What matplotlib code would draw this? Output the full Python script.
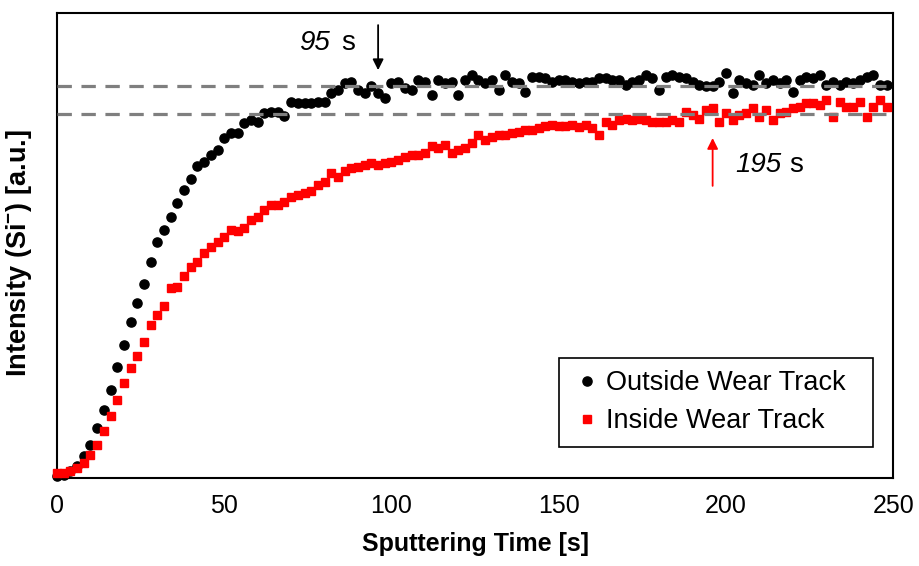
import matplotlib
matplotlib.use("Agg")
import matplotlib.pyplot as plt

plt.rcParams['font.family'] = ['Liberation Sans', 'DejaVu Sans']

# sputtering time [s], one sample every 2 s
time_s = [0, 2, 4, 6, 8, 10, 12, 14, 16, 18, 20, 22, 24, 26, 28, 30, 32, 34, 36, 38,
          40, 42, 44, 46, 48, 50, 52, 54, 56, 58, 60, 62, 64, 66, 68, 70, 72, 74, 76, 78,
          80, 82, 84, 86, 88, 90, 92, 94, 96, 98, 100, 102, 104, 106, 108, 110, 112, 114, 116, 118,
          120, 122, 124, 126, 128, 130, 132, 134, 136, 138, 140, 142, 144, 146, 148, 150, 152, 154, 156, 158,
          160, 162, 164, 166, 168, 170, 172, 174, 176, 178, 180, 182, 184, 186, 188, 190, 192, 194, 196, 198,
          200, 202, 204, 206, 208, 210, 212, 214, 216, 218, 220, 222, 224, 226, 228, 230, 232, 234, 236, 238,
          240, 242, 244, 246, 248]

# Si- intensity (arbitrary units) outside the wear track
outside = [0.3, 0.6, 1.4, 2.6, 4.6, 7.1, 10.7, 14.6, 18.9, 23.9, 28.6, 33.4, 37.6, 41.7, 46.5, 50.8, 53.3, 56.2, 59.1, 61.9,
           64.3, 67.0, 68.0, 69.5, 70.5, 73.1, 74.1, 74.1, 76.3, 77.0, 76.6, 78.4, 78.8, 78.6, 77.8, 80.9, 80.6, 80.6, 80.6, 80.9,
           80.9, 82.7, 83.4, 84.9, 85.2, 83.4, 82.7, 84.2, 82.7, 81.7, 84.9, 85.2, 83.8, 83.4, 85.6, 85.2, 82.4, 85.6, 84.9, 85.2,
           82.4, 85.6, 86.7, 85.6, 84.9, 85.6, 83.4, 86.7, 85.2, 84.9, 83.1, 86.3, 86.3, 86.0, 85.2, 85.6, 85.6, 85.2, 84.9, 85.2,
           85.2, 86.0, 86.0, 85.6, 85.6, 84.5, 85.2, 85.6, 86.7, 86.0, 83.4, 86.3, 86.7, 86.3, 86.0, 85.2, 84.5, 84.2, 84.2, 85.2,
           87.0, 82.7, 85.6, 84.9, 84.5, 86.7, 84.9, 85.6, 84.9, 85.6, 83.1, 85.6, 86.3, 86.0, 86.7, 84.5, 85.2, 84.5, 85.2, 84.9,
           85.6, 86.3, 86.7, 84.5, 84.5]

# Si- intensity (arbitrary units) inside the wear track
inside = [1.0, 1.1, 1.4, 2.0, 3.2, 4.9, 7.1, 10.0, 13.2, 16.8, 20.4, 23.6, 26.1, 29.3, 32.9, 35.1, 37.0, 40.8, 41.1, 43.3,
          45.4, 46.5, 48.3, 49.7, 50.8, 51.9, 53.3, 53.0, 53.7, 55.5, 56.2, 57.6, 58.7, 58.7, 59.4, 60.5, 60.9, 61.2, 61.6, 63.0,
          63.7, 65.5, 64.8, 65.9, 66.6, 66.9, 67.3, 67.7, 67.3, 67.7, 68.0, 68.4, 69.1, 69.5, 69.5, 69.8, 71.3, 70.9, 71.6, 69.8,
          70.5, 70.9, 72.0, 73.8, 72.7, 73.4, 73.8, 73.8, 74.1, 74.5, 74.8, 74.8, 75.2, 75.6, 75.9, 75.6, 75.6, 75.9, 75.5, 75.9,
          75.2, 73.8, 76.6, 75.9, 77.0, 77.3, 77.0, 77.3, 77.0, 76.6, 76.6, 76.6, 77.0, 76.6, 78.8, 78.1, 77.3, 79.1, 79.5, 76.6,
          78.4, 77.0, 78.1, 78.4, 79.5, 77.7, 79.1, 77.0, 78.4, 78.8, 79.5, 79.8, 80.6, 80.6, 80.2, 81.3, 77.7, 80.9, 79.8, 79.8,
          80.9, 77.7, 79.8, 81.3, 79.8]

plateau_outside = 84.3
plateau_inside = 78.3
x_ticks = [0, 50, 100, 150, 200, 250]

fig = plt.figure(figsize=(9.19, 5.66), dpi=100)
ax = fig.add_axes([0.062, 0.156, 0.910, 0.821])

# trailing spaces give the legend box its extra right margin
ax.plot(time_s, outside, 'o', color='black', markersize=6.6, label='Outside Wear Track  ',
        zorder=3, clip_on=False)
ax.plot(time_s, inside, 's', color='#ff0000', markersize=5.8, label='Inside Wear Track',
        zorder=4, clip_on=False)

ax.axhline(plateau_outside, color='#7f7f7f', lw=2.3, dashes=(4.5, 3), zorder=5)
ax.axhline(plateau_inside, color='#7f7f7f', lw=2.3, dashes=(4.5, 3), zorder=5)

# arrows marking where each curve reaches its plateau
ax.annotate('', xy=(96, 87.7), xytext=(96, 97.4),
            arrowprops=dict(arrowstyle='-|>', color='black', lw=1.3, mutation_scale=16,
                            shrinkA=0, shrinkB=0))
ax.text(72.5, 93.5, '95', fontsize=20, style='italic', va='center', ha='left')
ax.text(85.0, 93.5, 's', fontsize=20, va='center', ha='left')

ax.annotate('', xy=(196, 73.1), xytext=(196, 62.8),
            arrowprops=dict(arrowstyle='-|>', color='#ff0000', lw=1.3, mutation_scale=16,
                            shrinkA=0, shrinkB=0))
ax.text(202.8, 67.3, '195', fontsize=20, style='italic', va='center', ha='left')
ax.text(219.0, 67.3, 's', fontsize=20, va='center', ha='left')

ax.set_xlim(0, 250)
ax.set_ylim(0, 100)
ax.set_xticks(x_ticks)
ax.set_yticks([])
ax.tick_params(axis='x', length=0, pad=12, labelsize=18)
for sp in ax.spines.values():
    sp.set_linewidth(1.5)
    sp.set_color('black')

ax.set_xlabel('Sputtering Time [s]', fontsize=18, fontweight='bold', labelpad=10)
ax.set_ylabel('Intensity (Si$^{\\mathregular{-}}$) [a.u.]', fontsize=19.5, fontweight='bold')
ax.yaxis.set_label_coords(-0.027, 0.484)

leg = ax.legend(loc='lower right', bbox_to_anchor=(0.976, 0.067), borderaxespad=0,
                fontsize=19.5, frameon=True, fancybox=False, framealpha=1,
                edgecolor='black', handlelength=1.2, handletextpad=0.1,
                borderpad=0.45, labelspacing=0.45, markerscale=1.0)
leg.get_frame().set_linewidth(1.2)

fig.savefig('out.png', dpi=100)
